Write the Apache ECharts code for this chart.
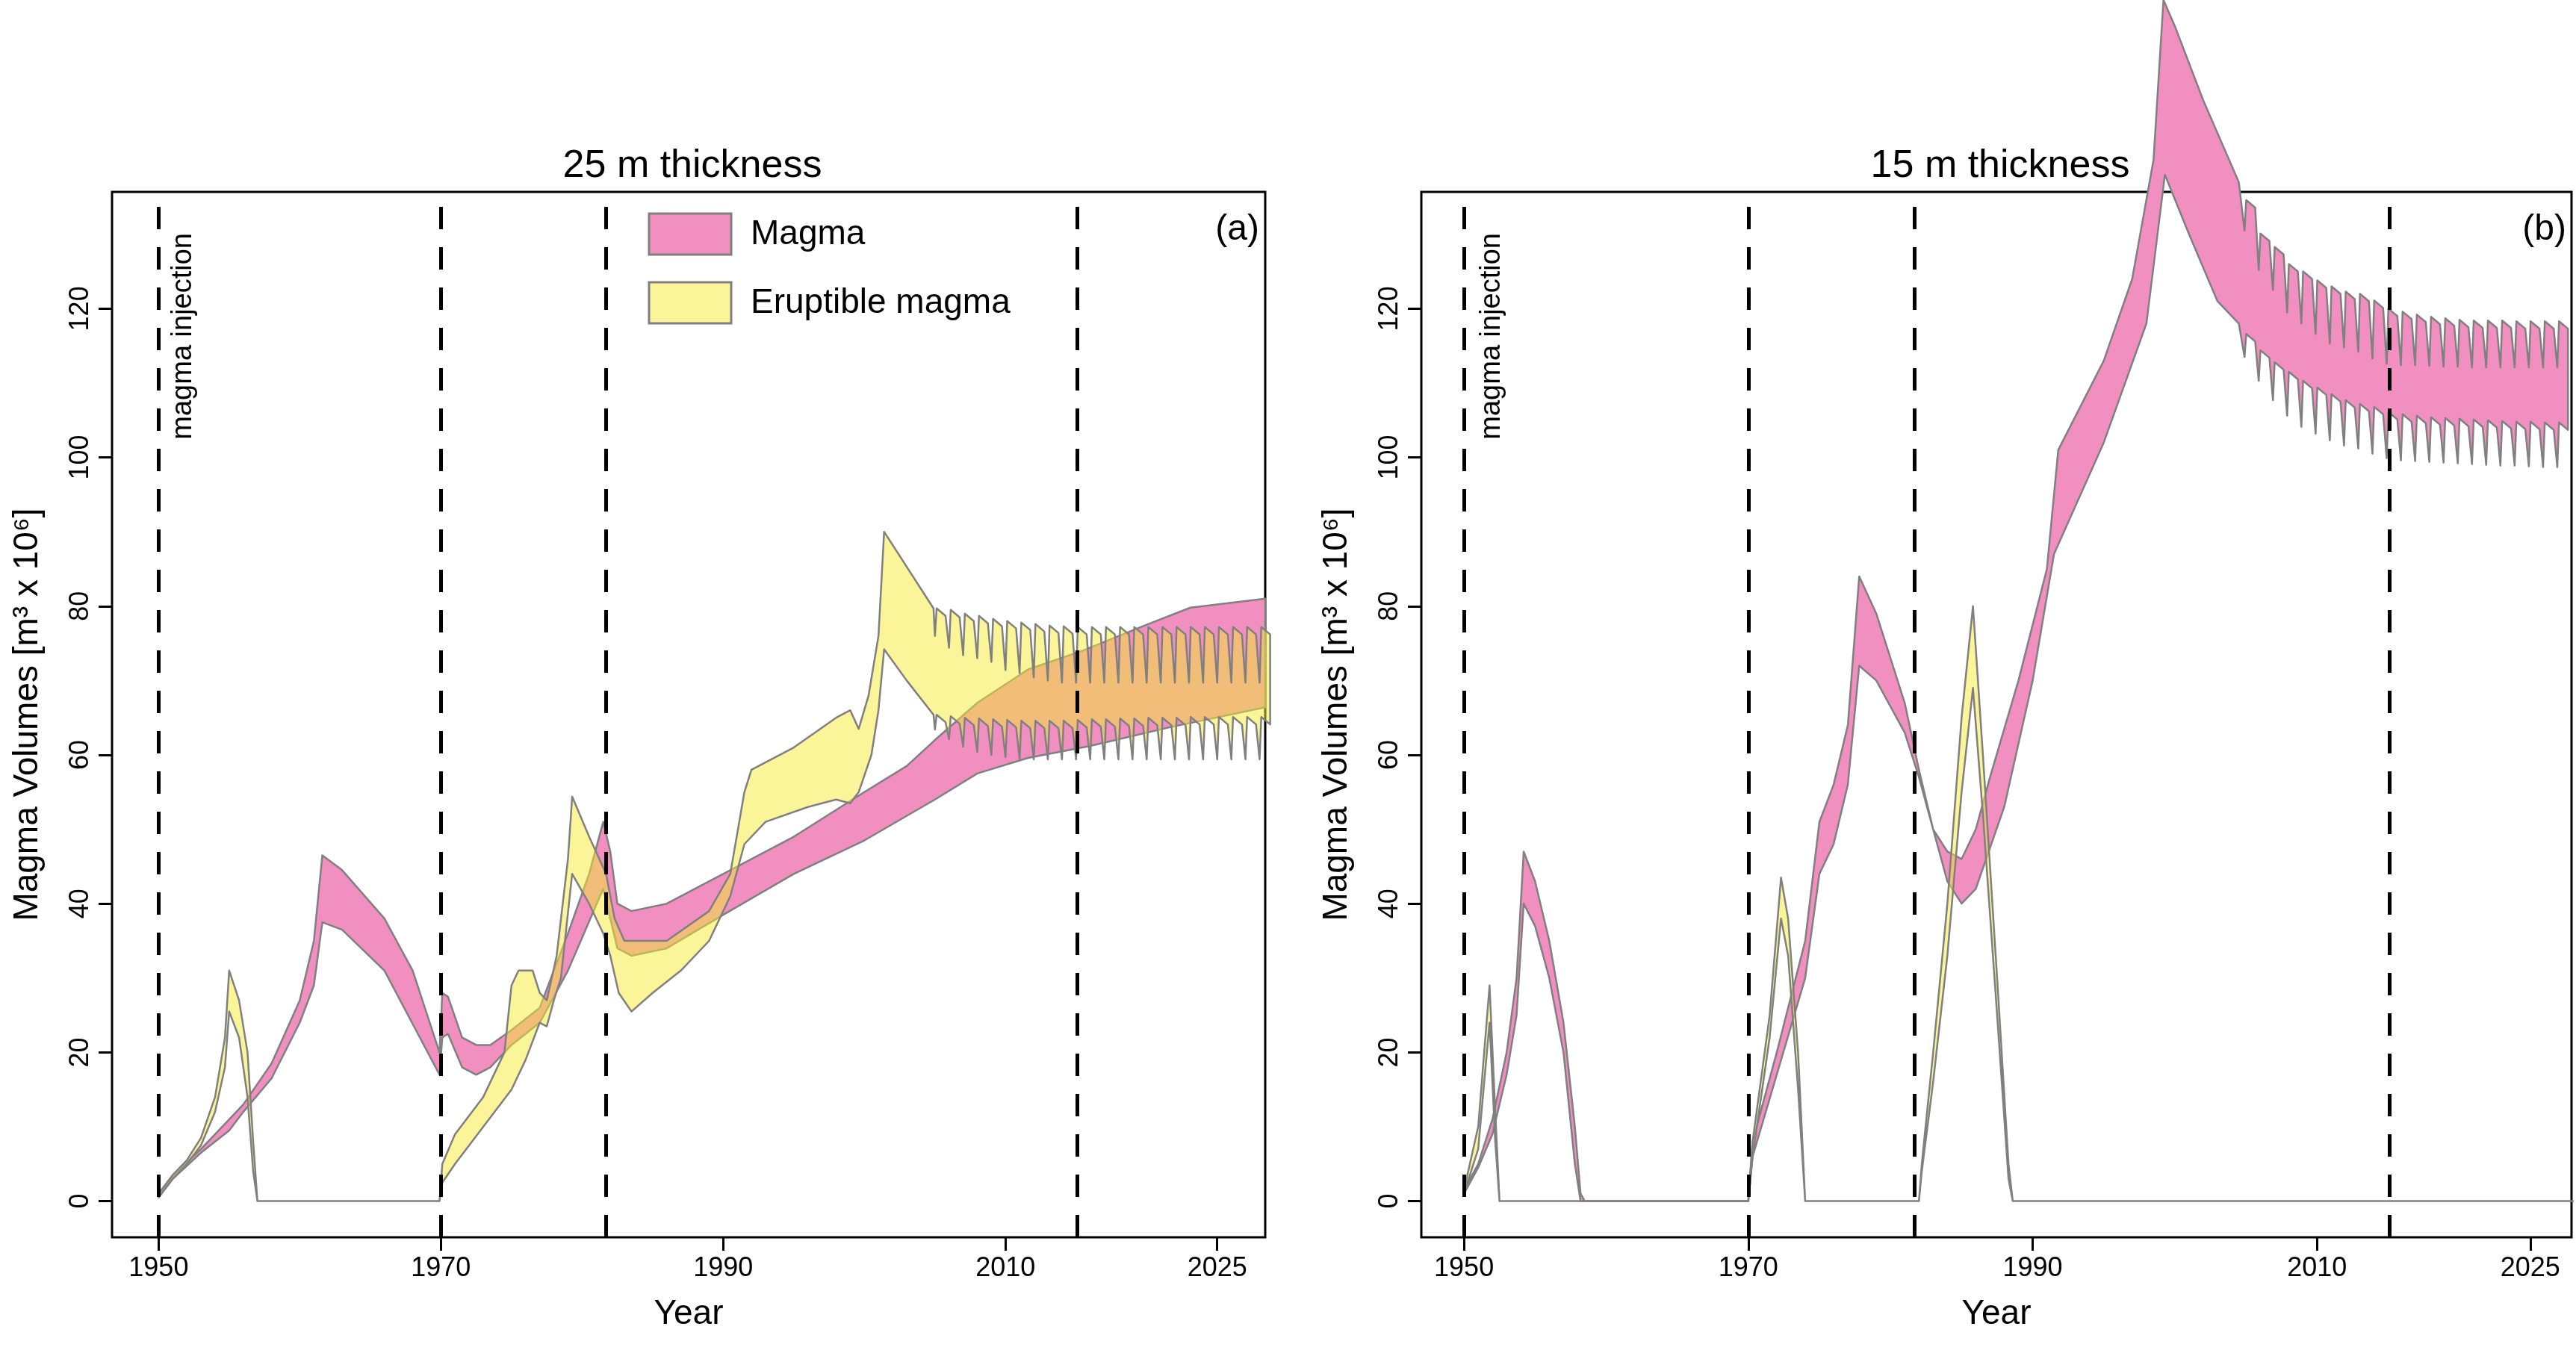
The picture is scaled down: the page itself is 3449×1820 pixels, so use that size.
<!doctype html>
<html>
<head>
<meta charset="UTF-8">
<title>Magma volumes</title>
<script src="https://cdn.jsdelivr.net/npm/echarts@6/dist/echarts.min.js"></script>
<style>html,body{margin:0;padding:0;background:#fff}#main{width:3449px;height:1820px}</style>
</head>
<body>
<div id="main"></div>
<script>
// ---- data (years, volume in 10^6 m3) ----
// panel (a) 25 m thickness
var aMagmaUpX = [1950,1951,1953,1955,1956,1958,1960,1961,1961.6,1963,1966,1968,1969.9,1970.1,1970.5,1971.5,1972.5,1973.5,1975,1977,1979,1980.5,1981.5,1982,1982.5,1983.5,1986,1990,1995,2000,2003,2005,2008,2011.6,2015.3,2020,2023.1,2028.4];
var aMagmaUpY = [1,3.5,7,11,13,18.5,27,35,46.5,44.5,38,31,20,28,27.5,22,21,21,23,26,36,44,51,47,40,39,40,44,49,55,58.5,62,67,71.5,73.9,77.5,79.8,81];
var aMagmaLoX = [1950,1951,1953,1955,1956,1958,1960,1961,1961.6,1963,1966,1969.9,1970.1,1970.5,1971.5,1972.5,1973.5,1975,1977,1979,1981.5,1982,1982.5,1983.5,1986,1990,1995,2000,2005,2008,2011.6,2016,2021.6,2028.4];
var aMagmaLoY = [0.5,3,6.5,9.5,12,16.5,24,29,37.5,36.5,31,17,22,22.5,18,17,18,21,24,31,42,38,34,33,34,38.5,44,48.5,54,57.5,59.6,61.2,63.7,66.4];

var aErupUpX = [1950,1951,1952,1953,1954,1954.7,1955,1955.7,1956.3,1956.7,1957,1969.9,1970.1,1971,1973,1974.5,1975,1975.5,1976.5,1977,1977.5,1978.2,1979,1979.3,1980.5,1981.7,1982.3,1983,1986,1989,1990.5,1991.5,1992,1995,1998,1999,1999.6,2000.3,2001,2001.4,2004.9];
var aErupUpY = [1,3.5,5.5,8.5,14,22,31,27,20,8,0,0,5,9,14,20,29,31,31,28,27,33,46,54.4,49,44,38,35,35,39,44,55,58,61,65,66,63.5,68,76,90,79.7];
var aErupLoX = [1950,1951,1952,1953,1954,1954.7,1955,1955.7,1956.3,1956.7,1957,1969.9,1970.1,1971,1973,1975,1976,1977,1977.5,1978,1978.5,1979.3,1980.5,1981.5,1982,1982.6,1983.5,1985,1987,1989,1990.5,1991.5,1993,1996,1998,1999,1999.6,2000.5,2001,2001.4,2003,2004.9];
var aErupLoY = [0.5,3,5,7.5,12,18,25.5,22,14,4,0,0,2.5,5,10,15,19,24,23.5,27,30,44,40,36,33,28,25.5,28,31,35,41,48,51,53,54,53.5,55,60,66,74.2,70,65.4];

// yearly oscillations of eruptible magma, 2005-2028
var aTeethStart = 2005;
var aErupUpPeaks = [79.7,79.5,79,78.7,78.3,78,77.8,77.6,77.4,77.3,77.2,77.2,77.2,77.2,77.2,77.2,77.2,77.2,77.2,77.2,77.2,77.2,77.2,77.2];
var aErupUpTroughs = [76,74.4,73.4,73,72.5,71.4,71,70.4,70,69.7,69.7,69.7,69.7,69.7,69.7,69.7,69.7,69.7,69.7,69.7,69.7,69.7,69.7,69.7];
var aErupLoPeaks = [65.4,65.2,65,64.9,64.8,64.7,64.6,64.6,64.6,64.6,64.7,64.8,64.8,64.9,64.9,65,65,65,65.1,65.1,65.1,65.1,65.1,65.1];
var aErupLoTroughs = [63.4,62.1,61.1,60.4,60,59.7,59.5,59.4,59.4,59.4,59.4,59.4,59.4,59.4,59.4,59.4,59.4,59.4,59.4,59.4,59.4,59.4,59.4,59.4];

// panel (b) 15 m thickness
var bMagmaUpX = [1950,1951,1952,1953,1953.7,1954.2,1955,1956,1957,1957.8,1958.2,1958.5,1970,1970.3,1972,1974,1975,1976,1977,1977.8,1979,1981,1982,1983,1984,1985,1986,1987,1989,1991,1991.8,1995,1997,1998.5,1999.2,2000,2002,2004.5];
var bMagmaUpY = [1.5,5,11,20,30,47,43,35,24,10,1,0,0,8,20,35,51,56,64,84,79,67,58,50,47,46,50,57,70,85,101,113,124,140,161.5,158,148,137];
var bMagmaLoX = [1950,1951,1952,1953,1953.7,1954.2,1955,1956,1957,1957.8,1958.2,1970,1970.3,1972,1974,1975,1976,1977,1977.8,1979,1981,1982,1983,1984,1985,1986,1988,1990,1991.5,1995,1998,1999.3,2001,2003,2004.5];
var bMagmaLoY = [1,4.5,9,17,25,40,37,30,20,5,0,0,6,17,30,44,48,56,72,70,63,57,50,43,40,42,53,70,87,102,118,138,130,121,118];

var bErupUpX = [1950,1951,1951.8,1952.2,1952.5,1970,1970.3,1971.5,1972.3,1972.8,1973.5,1974,1982,1982.2,1983,1984,1985,1985.8,1986.5,1987.5,1988.3,1988.6,2028];
var bErupUpY = [1.5,10,29,12,0,0,8,25,43.5,38,20,0,0,5,20,40,65,80,60,30,5,0,0];
var bErupLoX = [1950,1951,1951.8,1952.2,1952.5,1970,1970.3,1971.5,1972.3,1972.8,1973.5,1974,1982,1982.2,1983,1984,1985,1985.8,1986.5,1987.5,1988.3,1988.6,2028];
var bErupLoY = [1,7,24,8,0,0,6,22,38,33,15,0,0,4,16,33,55,69,52,25,3,0,0];

var bTeethStart = 2004.9;
var bMagmaUpPeaks = [134.6,130.1,128.3,126,125,123.8,123,122.3,122,121.1,120,119.6,119.2,118.9,118.7,118.5,118.4,118.4,118.4,118.3,118.3,118.3,118.3];
var bMagmaUpTroughs = [130.5,125.2,122.5,119.5,118,116.6,115.3,114.8,114.2,113.3,112.6,112.4,112.4,112.3,112.2,112.2,112.1,112.1,112.1,112.1,112.1,112.1,112.1];
var bMagmaLoPeaks = [116.6,114.4,112.8,111.5,110.3,109.4,108.5,107.7,107.2,106.8,106.1,105.8,105.6,105.4,105.3,105.2,105.1,105,104.9,104.8,104.8,104.7,104.7];
var bMagmaLoTroughs = [113.5,110.3,107.7,105.6,104.1,103.2,102.3,101.6,101.2,100.5,99.9,99.6,99.5,99.4,99.3,99.2,99.1,99,98.9,98.9,98.8,98.7,98.7];

var injectionYears = [1950, 1970, 1981.7, 2015.1];
var yearTicks = [1950, 1970, 1990, 2010, 2025];
var volTicks = [0, 20, 40, 60, 80, 100, 120];

// ---- helpers ----
function pairs(xs, ys) { return xs.map(function (x, i) { return [x, ys[i]]; }); }
function teeth(start, peaks, troughs) {
    var out = [];
    for (var i = 0; i < peaks.length; i++) {
        var t = start + i;
        out.push([t, troughs[i]], [t + 0.12, peaks[i]], [t + 0.75, peaks[i] - 1]);
    }
    return out;
}
function band(upper, lower) { return upper.concat(lower.slice().reverse()); }

var aMagma = band(pairs(aMagmaUpX, aMagmaUpY), pairs(aMagmaLoX, aMagmaLoY));
var aErup = band(pairs(aErupUpX, aErupUpY).concat(teeth(aTeethStart, aErupUpPeaks, aErupUpTroughs)),
                 pairs(aErupLoX, aErupLoY).concat(teeth(aTeethStart, aErupLoPeaks, aErupLoTroughs)));
var bMagma = band(pairs(bMagmaUpX, bMagmaUpY).concat(teeth(bTeethStart, bMagmaUpPeaks, bMagmaUpTroughs)),
                  pairs(bMagmaLoX, bMagmaLoY).concat(teeth(bTeethStart, bMagmaLoPeaks, bMagmaLoTroughs)));
var bErup = band(pairs(bErupUpX, bErupUpY), pairs(bErupLoX, bErupLoY));

var PINK = '#f18fc0';
var YELLOW = 'rgba(243,235,49,0.5)';
var EDGE = '#808080';
var FONT = 'Liberation Sans, Arial, sans-serif';

function bandSeries(idx, pts, fill) {
    return {
        type: 'custom', xAxisIndex: idx, yAxisIndex: idx, clip: false, silent: true,
        data: [[pts[0][0], pts[0][1]]],
        renderItem: function (params, api) {
            return {
                type: 'polygon',
                shape: { points: pts.map(function (p) { return api.coord(p); }) },
                style: { fill: fill, stroke: EDGE, lineWidth: 2.5, lineJoin: 'round' }
            };
        }
    };
}
function dashSeries(idx) {
    return {
        type: 'line', xAxisIndex: idx, yAxisIndex: idx, data: [], silent: true,
        markLine: {
            symbol: 'none', silent: true, label: { show: false },
            lineStyle: { color: '#000', type: [30, 24], width: 5 },
            data: injectionYears.map(function (y) { return { xAxis: y }; })
        }
    };
}
function xAxis(idx, min, max) {
    return {
        type: 'value', gridIndex: idx, min: min, max: max,
        name: 'Year', nameLocation: 'middle', nameGap: 80,
        nameTextStyle: { fontFamily: FONT, fontSize: 46, color: '#000' },
        splitLine: { show: false }, axisLine: { show: false, onZero: false },
        axisTick: { show: true, customValues: yearTicks, length: 18, lineStyle: { color: '#000', width: 3 } },
        axisLabel: { customValues: yearTicks, formatter: function (v) { return String(v); },
                     fontFamily: FONT, fontSize: 36, color: '#000', margin: 24 }
    };
}
function yAxis(idx) {
    return {
        type: 'value', gridIndex: idx, min: -4.86, max: 135.7,
        name: 'Magma Volumes [m\u00b3 x 10\u2076]', nameLocation: 'middle', nameGap: 90,
        nameTextStyle: { fontFamily: FONT, fontSize: 46, color: '#000' },
        splitLine: { show: false }, axisLine: { show: false, onZero: false },
        axisTick: { show: true, customValues: volTicks, length: 18, lineStyle: { color: '#000', width: 3 } },
        axisLabel: { customValues: volTicks, rotate: 90, fontFamily: FONT, fontSize: 36, color: '#000', margin: 24 }
    };
}

var chart = echarts.init(document.getElementById('main'));
chart.setOption({
    animation: false,
    backgroundColor: '#fff',
    title: [
        { text: '25 m thickness', left: 922, top: 192, textAlign: 'center',
          textStyle: { fontFamily: FONT, fontSize: 52, fontWeight: 'normal', color: '#000' } },
        { text: '15 m thickness', left: 2673, top: 192, textAlign: 'center',
          textStyle: { fontFamily: FONT, fontSize: 52, fontWeight: 'normal', color: '#000' } }
    ],
    grid: [
        { left: 150, top: 257, width: 1544, height: 1400, show: true, borderColor: '#000', borderWidth: 3, backgroundColor: 'transparent' },
        { left: 1903, top: 257, width: 1540, height: 1400, show: true, borderColor: '#000', borderWidth: 3, backgroundColor: 'transparent' }
    ],
    xAxis: [xAxis(0, 1946.7, 2028.4), xAxis(1, 1947.0, 2027.9)],
    yAxis: [yAxis(0), yAxis(1)],
    series: [
        bandSeries(0, aMagma, PINK),
        bandSeries(0, aErup, YELLOW),
        dashSeries(0),
        bandSeries(1, bMagma, PINK),
        bandSeries(1, bErup, YELLOW),
        dashSeries(1)
    ],
    graphic: [
        { type: 'rect', shape: { x: 869, y: 286, width: 110, height: 55 }, style: { fill: PINK, stroke: EDGE, lineWidth: 3 } },
        { type: 'rect', shape: { x: 869, y: 378, width: 110, height: 55 }, style: { fill: '#f9f598', stroke: EDGE, lineWidth: 3 } },
        { type: 'text', x: 1005, y: 314, style: { text: 'Magma', font: '46px ' + FONT, fill: '#000', verticalAlign: 'middle' } },
        { type: 'text', x: 1005, y: 406, style: { text: 'Eruptible magma', font: '46px ' + FONT, fill: '#000', verticalAlign: 'middle' } },
        { type: 'text', x: 1686, y: 308, style: { text: '(a)', font: '48px ' + FONT, fill: '#000', align: 'right', verticalAlign: 'middle' } },
        { type: 'text', x: 3436, y: 308, style: { text: '(b)', font: '48px ' + FONT, fill: '#000', align: 'right', verticalAlign: 'middle' } },
        { type: 'text', x: 246, y: 312, rotation: Math.PI / 2,
          style: { text: 'magma injection', font: '38px "Liberation Sans Narrow", ' + FONT, fill: '#000', align: 'right', verticalAlign: 'middle' } },
        { type: 'text', x: 1998, y: 312, rotation: Math.PI / 2,
          style: { text: 'magma injection', font: '38px "Liberation Sans Narrow", ' + FONT, fill: '#000', align: 'right', verticalAlign: 'middle' } }
    ]
});
</script>
</body>
</html>
